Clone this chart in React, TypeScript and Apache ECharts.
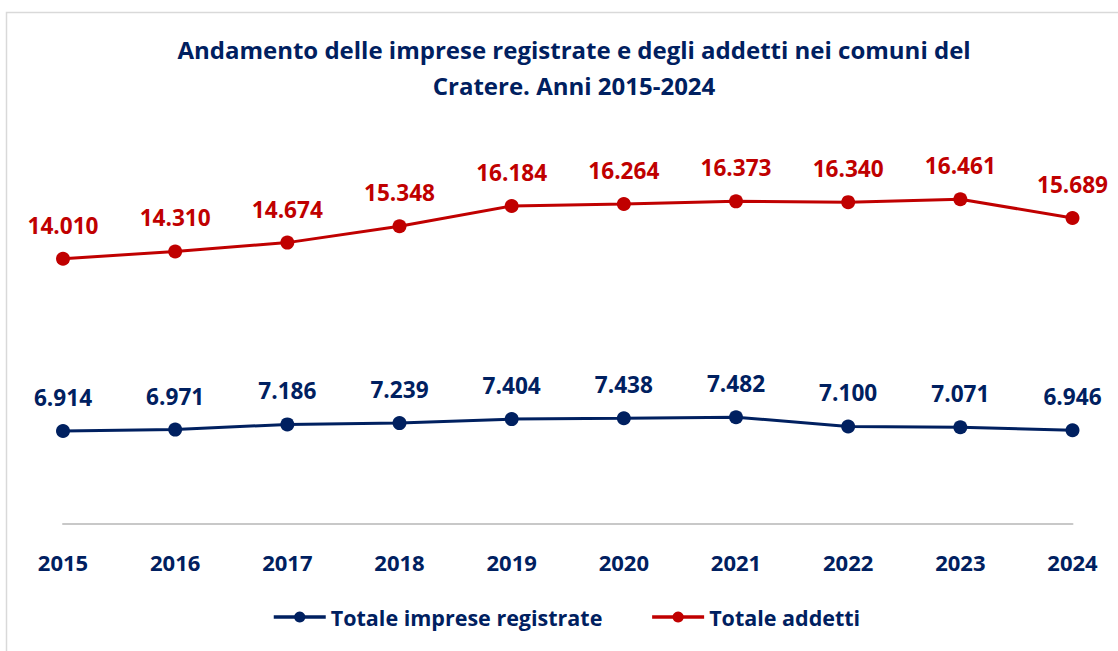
import React, { useEffect, useRef } from "react";
import * as echarts from "echarts";

const years = ["2015", "2016", "2017", "2018", "2019", "2020", "2021", "2022", "2023", "2024"];
const imprese = [6914, 6971, 7186, 7239, 7404, 7438, 7482, 7100, 7071, 6946];
const addetti = [14010, 14310, 14674, 15348, 16184, 16264, 16373, 16340, 16461, 15689];

const NAVY = "#002060";
const RED = "#C00000";
const FONT = "'Open Sans', sans-serif";

const fmt = (v: number) => {
  const s = String(Math.round(v));
  return s.replace(/\B(?=(\d{3})+(?!\d))/g, ".");
};

export default function App() {
  const ref = useRef<HTMLDivElement>(null);
  useEffect(() => {
    document.body.style.margin = "0";
    const chart = echarts.init(ref.current!, null, { renderer: "svg" });
    chart.setOption({
      animation: false,
      backgroundColor: "#ffffff",
      graphic: [
        {
          type: "rect",
          shape: { x: 6.5, y: 12.5, width: 1300, height: 800 },
          style: { fill: "none", stroke: "#d9d9d9", lineWidth: 1.5 },
          silent: true,
        },
      ],
      title: {
        text: "Andamento delle imprese registrate e degli addetti nei comuni del\nCratere. Anni 2015-2024",
        left: 569,
        textAlign: "center",
        top: 26,
        textStyle: {
          fontFamily: FONT,
          fontWeight: "bold",
          fontSize: 24,
          color: NAVY,
          lineHeight: 36,
        },
      },
      legend: {
        left: 272,
        top: 606,
        padding: 0,
        itemWidth: 52,
        itemHeight: 14,
        itemGap: 48,
        lineStyle: { width: 3.5 },
        textStyle: { fontFamily: FONT, fontWeight: "bold", fontSize: 21.5, color: NAVY },
        data: ["Totale imprese registrate", "Totale addetti"],
      },
      grid: { left: 63, right: 45.5, top: 120.6, bottom: 127.4 },
      xAxis: {
        type: "category",
        data: years,
        boundaryGap: false,
        axisLine: { lineStyle: { color: "#c8c8c8", width: 2 } },
        axisTick: { show: false },
        axisLabel: {
          margin: 27,
          fontFamily: FONT,
          fontWeight: "bold",
          fontSize: 22,
          color: NAVY,
        },
      },
      yAxis: {
        type: "value",
        min: 3100,
        max: 19700,
        show: false,
        splitLine: { show: false },
      },
      series: [
        {
          name: "Totale imprese registrate",
          type: "line",
          data: imprese,
          color: NAVY,
          symbol: "circle",
          symbolSize: 14,
          lineStyle: { width: 3, color: NAVY },
          itemStyle: { color: NAVY },
          label: {
            show: true,
            position: "top",
            distance: 15,
            formatter: (p: any) => fmt(p.value),
            fontFamily: FONT,
            fontWeight: "bold",
            fontSize: 22.6,
            color: NAVY,
          },
        },
        {
          name: "Totale addetti",
          type: "line",
          data: addetti,
          color: RED,
          symbol: "circle",
          symbolSize: 14,
          lineStyle: { width: 3, color: RED },
          itemStyle: { color: RED },
          label: {
            show: true,
            position: "top",
            distance: 15,
            formatter: (p: any) => fmt(p.value),
            fontFamily: FONT,
            fontWeight: "bold",
            fontSize: 22.6,
            color: RED,
          },
        },
      ],
    });
    return () => chart.dispose();
  }, []);
  return <div ref={ref} style={{ width: 1118, height: 651 }} />;
}
